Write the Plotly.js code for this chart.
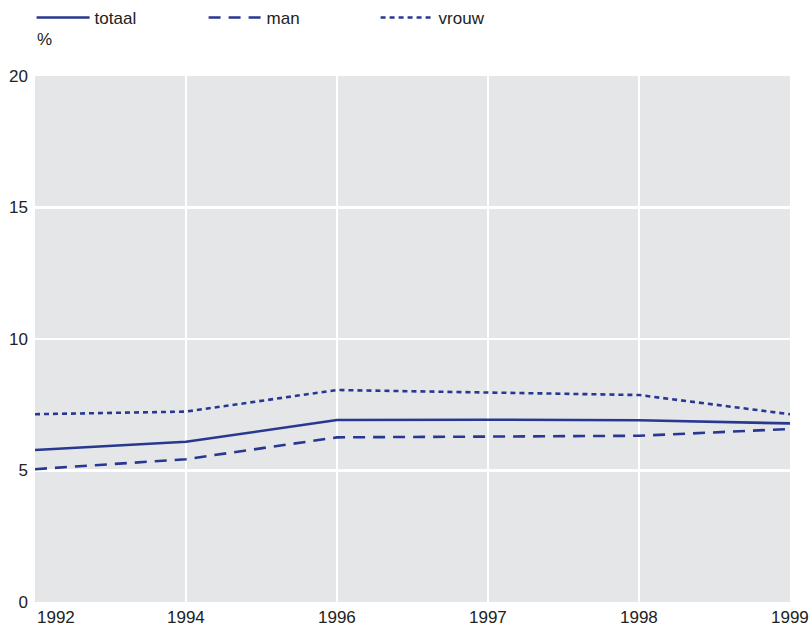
<!DOCTYPE html>
<html>
<head>
<meta charset="utf-8">
<script src="https://cdn.plot.ly/plotly-3.0.1.min.js"></script>
<style>html,body{margin:0;padding:0;background:#fff;}#chart{width:810px;height:629px;}</style>
</head>
<body>
<div id="chart"></div>
<script>
const years = ["1992", "1994", "1996", "1997", "1998", "1999"];
const totaal = [5.78, 6.09, 6.92, 6.93, 6.91, 6.79];
const man = [5.05, 5.43, 6.26, 6.30, 6.32, 6.58];
const vrouw = [7.14, 7.24, 8.06, 7.96, 7.87, 7.14];
const seriesNames = ["totaal", "man", "vrouw"];
const yTicks = [0, 5, 10, 15, 20];
const yUnit = "%";

const navy = "#283891";
const font = {family: "Liberation Sans, Arial, sans-serif", size: 17, color: "#222"};

const traces = [
  {x: years, y: totaal, name: seriesNames[0], type: "scatter", mode: "lines",
   line: {color: navy, width: 2.6, dash: "solid"}},
  {x: years, y: man, name: seriesNames[1], type: "scatter", mode: "lines",
   line: {color: navy, width: 2.6, dash: "12px,8px"}},
  {x: years, y: vrouw, name: seriesNames[2], type: "scatter", mode: "lines",
   line: {color: navy, width: 2.6, dash: "5px,4px"}}
];

const annotations = years.map((yr, i) => ({
  x: i, xref: "x", y: 0, yref: "paper", yanchor: "top",
  xanchor: i === 0 ? "left" : "center", yshift: -4,
  text: yr, showarrow: false, font: font
}));
annotations.push({
  x: 0, xref: "paper", y: 1, yref: "paper", xanchor: "left", yanchor: "bottom",
  yshift: 25, text: yUnit, showarrow: false, font: font
});

const layout = {
  width: 810, height: 629,
  margin: {l: 35, r: 20, t: 76, b: 27, pad: 0},
  paper_bgcolor: "#ffffff",
  plot_bgcolor: "#e5e6e8",
  font: font,
  showlegend: true,
  legend: {
    orientation: "h", xref: "container", yref: "container",
    x: 0.039, y: 1, xanchor: "left", yanchor: "top",
    itemwidth: 53, entrywidth: 104, entrywidthmode: "pixels",
    font: font, bgcolor: "rgba(0,0,0,0)", traceorder: "normal"
  },
  xaxis: {
    type: "category", range: [0, years.length - 1],
    showticklabels: false, ticks: "",
    showgrid: true, gridcolor: "#ffffff", gridwidth: 2.6,
    zeroline: false, showline: false, fixedrange: true
  },
  yaxis: {
    range: [0, 20], tickvals: yTicks, ticktext: yTicks.map(String),
    ticks: "", ticklabelstandoff: 6,
    showgrid: true, gridcolor: "#ffffff", gridwidth: 2.6,
    zeroline: false, showline: false, fixedrange: true, tickfont: font
  },
  annotations: annotations
};

Plotly.newPlot("chart", traces, layout, {displayModeBar: false, staticPlot: true});
</script>
</body>
</html>
